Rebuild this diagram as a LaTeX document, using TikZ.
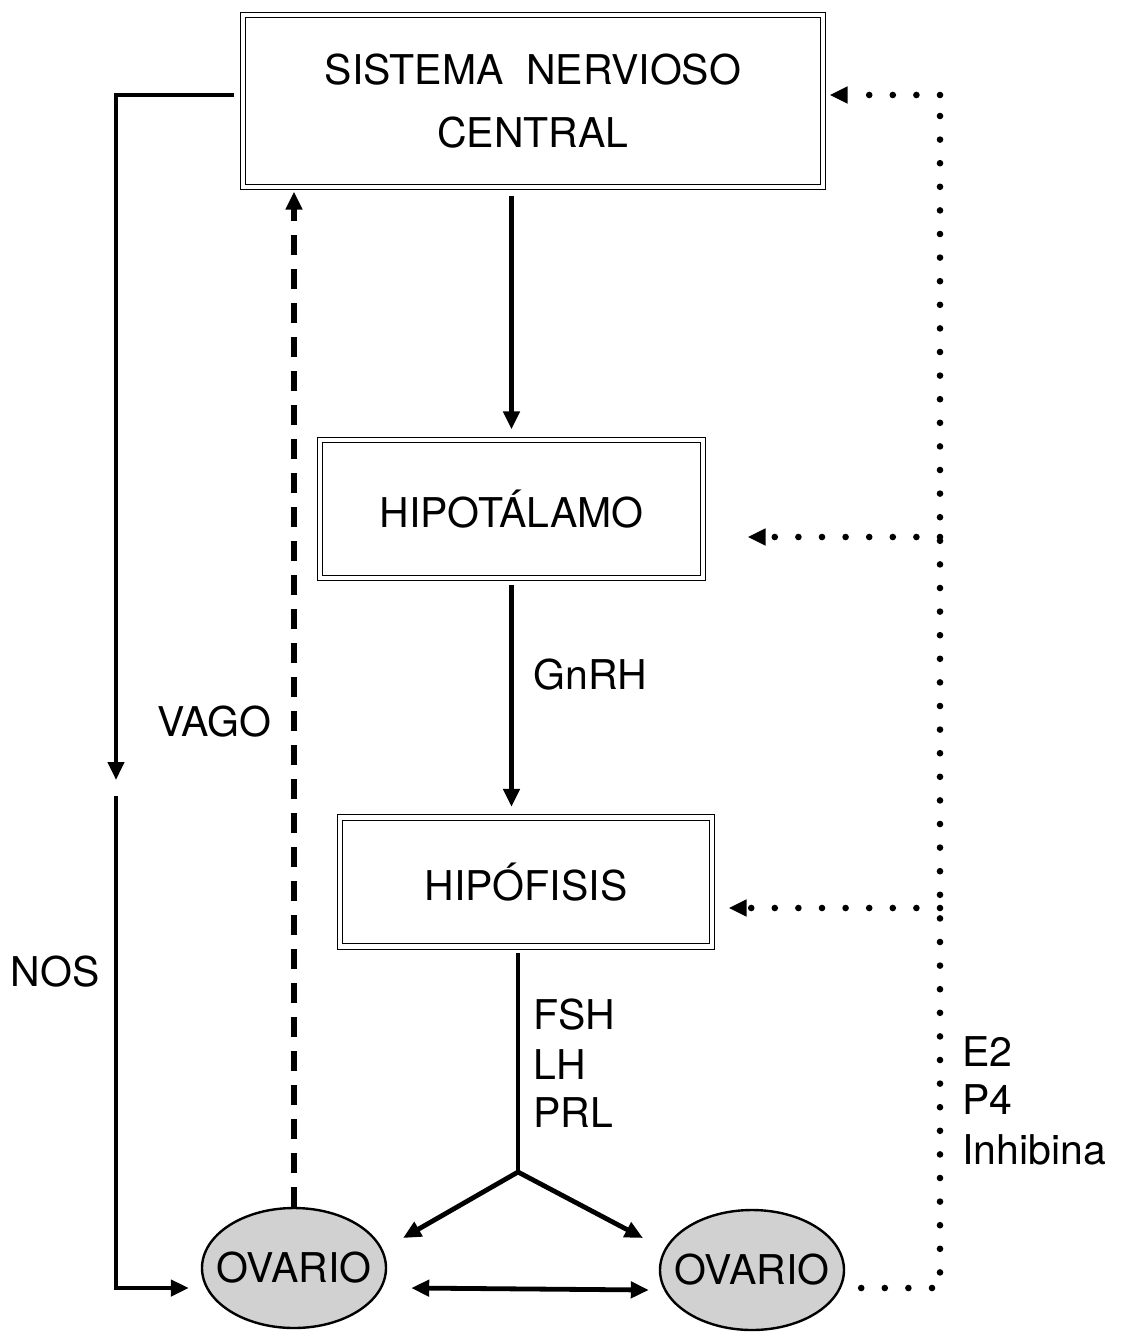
\documentclass[tikz,border=0pt]{standalone}
\usepackage{fontspec}
\setmainfont{TeX Gyre Heros}
\usepackage{tikz}
\usetikzlibrary{positioning,calc,shapes.geometric}
\usetikzlibrary{arrows.meta}
\tikzset{box/.style={draw=black,double,line width=0.6pt,double distance=2.2pt,inner sep=0pt,align=center,font=\fontsize{20.5}{31.5}\selectfont}, ova/.style={ellipse,draw=black,line width=1.2pt,fill=black!18,minimum width=92pt,minimum height=60pt,inner xsep=-7.5pt,inner ysep=0pt,font=\fontsize{20.5}{24}\selectfont}, lbl/.style={font=\fontsize{20.5}{24}\selectfont,inner sep=0pt}, arr/.style={line width=2.4pt,-{Triangle[length=9pt,width=8pt]}}, fb/.style={line width=3.3pt,line cap=round,dash pattern=on 0pt off 11.8pt}, fbarr/.style={fb,-{Triangle[length=9pt,width=8pt]}}, vago/.style={line width=2.6pt,dash pattern=on 10pt off 7pt,-{Triangle[length=9pt,width=8pt]}}}

\begin{document}
\begin{tikzpicture}[x=0.5pt,y=-0.5pt]
\useasboundingbox (0,0) rectangle (1122,1333);
\node[box,minimum width=290pt,minimum height=86pt] (snc) at (533,101) {SISTEMA\ \ NERVIOSO\\CENTRAL};
\node[box,minimum width=191.5pt,minimum height=69pt] (hipot) at (511.5,509) {HIPOTÁLAMO};
\node[box,minimum width=186pt,minimum height=64.5pt] (hipof) at (526,882) {HIPÓFISIS};
\node[ova] (ovl) at (294,1268) {OVARIO};
\node[ova] (ovr) at (752,1270) {OVARIO};
\coordinate (split) at (518,1172);
\coordinate (tipl) at (403,1238);
\coordinate (tipr) at (643,1238);
\coordinate (nosa) at (116,780);
\coordinate (nosb) at (116,796);
\coordinate (fbx) at (940,0);
% eje central
\draw[arr,shorten <=4pt,shorten >=5pt] (hipot.north |- snc.south) -- (hipot.north);
\draw[arr,shorten <=3pt,shorten >=5pt] (hipot.south) -- (hipot.south |- hipof.north);
\draw[line width=2.4pt,shorten <=3pt] (split |- hipof.south) -- (split);
\draw[arr] (split) -- (tipl);
\draw[arr] (split) -- (tipr);
\draw[line width=2.4pt,{Triangle[length=9pt,width=8pt]}-{Triangle[length=9pt,width=8pt]}] ([xshift=12pt,yshift=-10pt]ovl.east) -- ([xshift=-5pt,yshift=-10pt]ovr.west);
\node[lbl,anchor=west] (gnrh) at (533,675) {GnRH};
\node[lbl,anchor=west] (fsh) at (533,1015) {FSH};
\node[lbl,anchor=west] (lh) at (533,1065) {LH};
\node[lbl,anchor=west] (prl) at (533,1113) {PRL};
% vias nerviosas
\draw[arr] ([xshift=-4pt,yshift=3pt]snc.west) -| (nosa);
\draw[arr,shorten >=6pt] (nosb) |- ([yshift=-10pt]ovl.west);
\node[lbl] (nos) at (55,972) {NOS};
\draw[vago,shorten >=2pt] (ovl.north) -- (ovl.north |- snc.south);
\node[lbl,anchor=east] (vagolbl) at (272,722) {VAGO};
% retroalimentacion
\draw[fb] ([xshift=8pt,yshift=-9pt]ovr.east) -| ([yshift=3pt]snc.east -| fbx);
\draw[fbarr,shorten >=3pt] ([yshift=3pt]snc.east -| fbx) -- ([yshift=3pt]snc.east);
\draw[fbarr,shorten >=22pt] ([yshift=-14pt]hipot.east -| fbx) -- ([yshift=-14pt]hipot.east);
\draw[fbarr,shorten >=8pt] ([yshift=-13pt]hipof.east -| fbx) -- ([yshift=-13pt]hipof.east);
\node[lbl,anchor=west] (e2) at (962,1052) {E2};
\node[lbl,anchor=west] (p4) at (962,1100) {P4};
\node[lbl,anchor=west] (inh) at (962,1150) {Inhibina};
\end{tikzpicture}
\end{document}
